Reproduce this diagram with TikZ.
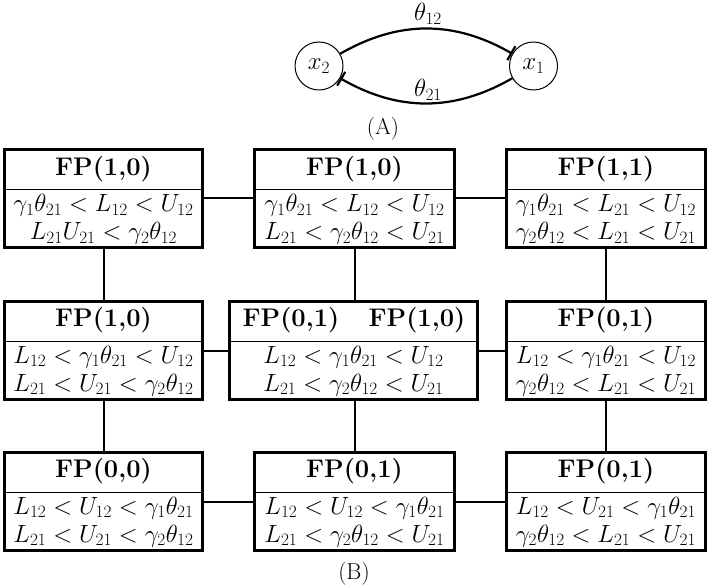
\documentclass[tikz,border=0pt]{standalone}
\usetikzlibrary{arrows.meta}
\begin{document}
\begin{tikzpicture}[x=1pt,y=-1pt,
  every node/.style={font=\fontsize{23}{25}\selectfont},
  state/.style={circle,draw,line width=1pt,minimum size=48pt,inner sep=0pt},
  box/.style={draw,line width=3pt,minimum height=98pt,inner sep=0pt},
  link/.style={line width=2pt},
  inh/.style={line width=2.2pt,-{Bar[width=16pt,line width=2.2pt]}},
  txt/.style={inner sep=0pt,align=center},
  hd/.style={inner sep=0pt,font=\fontsize{25.5}{27}\selectfont\bfseries},
  divider/.style={line width=1pt}
]
\useasboundingbox (0,0) rectangle (709,585);

% (A)
\node[state] (x2) at (319,66) {$x_2$};
\node[state] (x1) at (533.5,66) {$x_1$};
\draw[inh] (x2.30) to[out=30,in=150] (x1.150);
\draw[inh] (x1.-150) to[out=-150,in=-30] (x2.-30);
\node[txt] (t12) at (428,14) {$\theta_{12}$};
\node[txt] (t21) at (428,90) {$\theta_{21}$};
\node[txt] (labA) at (383,129) {(A)};

% boxes
\node[box,minimum width=198pt] (b11) at (103.5,198.5) {};
\node[box,minimum width=200pt] (b12) at (354.5,198.5) {};
\node[box,minimum width=199pt] (b13) at (606,198.5) {};
\node[box,minimum width=198pt] (b21) at (103.5,350.5) {};
\node[box,minimum width=248pt] (b22) at (353.5,350.5) {};
\node[box,minimum width=199pt] (b23) at (606,350.5) {};
\node[box,minimum width=198pt] (b31) at (103.5,501.5) {};
\node[box,minimum width=200pt] (b32) at (354.5,501.5) {};
\node[box,minimum width=199pt] (b33) at (606,501.5) {};

% dividers
\foreach \b/\y in {b11/190,b12/190,b13/190,b21/341,b22/341,b23/341,b31/492,b32/492,b33/492}
  \draw[divider] (\b.west |- 0,\y) -- (\b.east |- 0,\y);

% headers
\node[hd] (h11) at (103.5,169) {FP(1,0)};
\node[hd] (h12) at (354.5,169) {FP(1,0)};
\node[hd] (h13) at (606,169) {FP(1,1)};
\node[hd] (h21) at (103.5,320.5) {FP(1,0)};
\node[hd] (h22a) at (291,320.5) {FP(0,1)};
\node[hd] (h22b) at (417,320.5) {FP(1,0)};
\node[hd] (h23) at (606,320.5) {FP(0,1)};
\node[hd] (h31) at (103.5,471.5) {FP(0,0)};
\node[hd] (h32) at (354.5,471.5) {FP(0,1)};
\node[hd] (h33) at (606,471.5) {FP(0,1)};

% bodies
\node[txt] (c11) at (103.5,219.5) {$\gamma_1\theta_{21} < L_{12} < U_{12}$\\[3pt]$L_{21}U_{21} < \gamma_2\theta_{12}$};
\node[txt] (c12) at (354.5,219.5) {$\gamma_1\theta_{21} < L_{12} < U_{12}$\\[3pt]$L_{21} < \gamma_2\theta_{12} < U_{21}$};
\node[txt] (c13) at (606,219.5) {$\gamma_1\theta_{21} < L_{21} < U_{12}$\\[3pt]$\gamma_2\theta_{12} < L_{21} < U_{21}$};
\node[txt] (c21) at (103.5,371) {$L_{12} < \gamma_1\theta_{21} < U_{12}$\\[3pt]$L_{21} < U_{21} < \gamma_2\theta_{12}$};
\node[txt] (c22) at (353.5,371) {$L_{12} < \gamma_1\theta_{21} < U_{12}$\\[3pt]$L_{21} < \gamma_2\theta_{12} < U_{21}$};
\node[txt] (c23) at (606,371) {$L_{12} < \gamma_1\theta_{21} < U_{12}$\\[3pt]$\gamma_2\theta_{12} < L_{21} < U_{21}$};
\node[txt] (c31) at (103.5,522) {$L_{12} < U_{12} < \gamma_1\theta_{21}$\\[3pt]$L_{21} < U_{21} < \gamma_2\theta_{12}$};
\node[txt] (c32) at (354.5,522) {$L_{12} < U_{12} < \gamma_1\theta_{21}$\\[3pt]$L_{21} < \gamma_2\theta_{12} < U_{21}$};
\node[txt] (c33) at (606,522) {$L_{12} < U_{21} < \gamma_1\theta_{21}$\\[3pt]$\gamma_2\theta_{12} < L_{21} < U_{21}$};

% connectors
\draw[link] (b11) -- (b12);
\draw[link] (b12) -- (b13);
\draw[link] (b21) -- (b22);
\draw[link] (b22) -- (b23);
\draw[link] (b31) -- (b32);
\draw[link] (b32) -- (b33);
\draw[link] (b11) -- (b21);
\draw[link] (b21) -- (b31);
\draw[link] (b12) -- (b12 |- b22.north);
\draw[link] (b12 |- b22.south) -- (b32);
\draw[link] (b13) -- (b23);
\draw[link] (b23) -- (b33);

\node[txt] (labB) at (354,574) {(B)};
\end{tikzpicture}
\end{document}
